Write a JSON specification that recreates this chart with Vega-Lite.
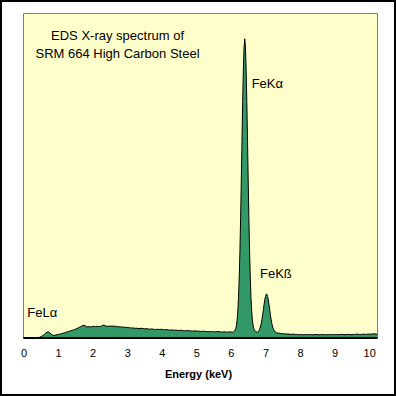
{
  "$schema": "https://vega.github.io/schema/vega-lite/v6.json",
  "width": 396,
  "height": 396,
  "padding": 0,
  "autosize": {"type": "none"},
  "background": "white",
  "config": {
    "view": {"stroke": "black", "strokeWidth": 4, "fill": "white"},
    "font": "Liberation Sans",
    "axisX": {"domain": false, "ticks": false, "tickSize": 0, "grid": false, "offset": -43, "labelPadding": 0, "labelBaseline": "middle", "labelFont": "Liberation Sans", "labelFontSize": 11, "labelColor": "black", "labelFlush": false, "labelOverlap": false, "titleFont": "Liberation Sans", "titleFontSize": 11, "titleFontWeight": "bold", "titleColor": "black", "titlePadding": 10}
  },
  "data": {"values": [{}]},
  "datasets": {
    "spectrum": [
      {"energy": 0.0, "counts": 0}, {"energy": 0.4, "counts": 0}, {"energy": 0.46, "counts": 0.2}, {"energy": 0.52, "counts": 0.5},
      {"energy": 0.58, "counts": 0.9}, {"energy": 0.64, "counts": 1.5}, {"energy": 0.68, "counts": 1.8}, {"energy": 0.72, "counts": 1.9},
      {"energy": 0.76, "counts": 1.6}, {"energy": 0.8, "counts": 1.2}, {"energy": 0.84, "counts": 0.9}, {"energy": 0.88, "counts": 0.8},
      {"energy": 0.94, "counts": 0.9}, {"energy": 1.0, "counts": 1.1}, {"energy": 1.06, "counts": 1.2}, {"energy": 1.12, "counts": 1.4},
      {"energy": 1.18, "counts": 1.6}, {"energy": 1.24, "counts": 1.8}, {"energy": 1.3, "counts": 2.0}, {"energy": 1.36, "counts": 2.2},
      {"energy": 1.42, "counts": 2.4}, {"energy": 1.48, "counts": 2.6}, {"energy": 1.54, "counts": 2.9}, {"energy": 1.6, "counts": 3.2},
      {"energy": 1.66, "counts": 3.5}, {"energy": 1.72, "counts": 3.9}, {"energy": 1.78, "counts": 3.8}, {"energy": 1.84, "counts": 3.4},
      {"energy": 1.9, "counts": 3.5}, {"energy": 1.96, "counts": 3.4}, {"energy": 2.02, "counts": 3.6}, {"energy": 2.08, "counts": 3.5},
      {"energy": 2.14, "counts": 3.6}, {"energy": 2.2, "counts": 3.5}, {"energy": 2.26, "counts": 3.7}, {"energy": 2.32, "counts": 4.0},
      {"energy": 2.38, "counts": 3.7}, {"energy": 2.44, "counts": 3.6}, {"energy": 2.5, "counts": 3.7}, {"energy": 2.56, "counts": 3.6},
      {"energy": 2.62, "counts": 3.7}, {"energy": 2.68, "counts": 3.5}, {"energy": 2.74, "counts": 3.5}, {"energy": 2.8, "counts": 3.4},
      {"energy": 2.86, "counts": 3.4}, {"energy": 2.92, "counts": 3.3}, {"energy": 2.98, "counts": 3.3}, {"energy": 3.04, "counts": 3.2},
      {"energy": 3.1, "counts": 3.1}, {"energy": 3.16, "counts": 3.1}, {"energy": 3.22, "counts": 3.0}, {"energy": 3.28, "counts": 3.0},
      {"energy": 3.34, "counts": 2.9}, {"energy": 3.4, "counts": 3.0}, {"energy": 3.46, "counts": 2.9}, {"energy": 3.52, "counts": 2.8},
      {"energy": 3.58, "counts": 2.9}, {"energy": 3.64, "counts": 2.7}, {"energy": 3.7, "counts": 2.8}, {"energy": 3.76, "counts": 2.7},
      {"energy": 3.82, "counts": 2.6}, {"energy": 3.88, "counts": 2.7}, {"energy": 3.94, "counts": 2.6}, {"energy": 4.0, "counts": 2.7},
      {"energy": 4.06, "counts": 2.5}, {"energy": 4.12, "counts": 2.6}, {"energy": 4.18, "counts": 2.5}, {"energy": 4.24, "counts": 2.4},
      {"energy": 4.3, "counts": 2.5}, {"energy": 4.36, "counts": 2.4}, {"energy": 4.42, "counts": 2.4}, {"energy": 4.48, "counts": 2.3},
      {"energy": 4.54, "counts": 2.4}, {"energy": 4.6, "counts": 2.3}, {"energy": 4.66, "counts": 2.2}, {"energy": 4.72, "counts": 2.3},
      {"energy": 4.78, "counts": 2.2}, {"energy": 4.84, "counts": 2.2}, {"energy": 4.9, "counts": 2.1}, {"energy": 4.96, "counts": 2.2},
      {"energy": 5.02, "counts": 2.1}, {"energy": 5.08, "counts": 2.1}, {"energy": 5.14, "counts": 2.0}, {"energy": 5.2, "counts": 2.1},
      {"energy": 5.26, "counts": 2.0}, {"energy": 5.32, "counts": 2.0}, {"energy": 5.38, "counts": 1.9}, {"energy": 5.44, "counts": 2.0},
      {"energy": 5.5, "counts": 1.9}, {"energy": 5.56, "counts": 1.9}, {"energy": 5.62, "counts": 2.0}, {"energy": 5.68, "counts": 1.9},
      {"energy": 5.74, "counts": 1.8}, {"energy": 5.8, "counts": 1.9}, {"energy": 5.86, "counts": 1.8}, {"energy": 5.92, "counts": 1.8},
      {"energy": 5.98, "counts": 1.9}, {"energy": 6.04, "counts": 1.8}, {"energy": 6.08, "counts": 1.9},
      {"energy": 6.1, "counts": 2.1}, {"energy": 6.12, "counts": 2.4}, {"energy": 6.14, "counts": 2.9}, {"energy": 6.16, "counts": 3.9},
      {"energy": 6.18, "counts": 5.6}, {"energy": 6.2, "counts": 8.3}, {"energy": 6.22, "counts": 12.5}, {"energy": 6.24, "counts": 18.5},
      {"energy": 6.26, "counts": 26.6}, {"energy": 6.28, "counts": 36.7}, {"energy": 6.3, "counts": 48.4}, {"energy": 6.32, "counts": 60.9},
      {"energy": 6.34, "counts": 72.8}, {"energy": 6.36, "counts": 82.9}, {"energy": 6.38, "counts": 89.6}, {"energy": 6.4, "counts": 92.2},
      {"energy": 6.42, "counts": 89.6}, {"energy": 6.44, "counts": 82.9}, {"energy": 6.46, "counts": 72.8}, {"energy": 6.48, "counts": 60.9},
      {"energy": 6.5, "counts": 48.4}, {"energy": 6.52, "counts": 36.7}, {"energy": 6.54, "counts": 26.6}, {"energy": 6.56, "counts": 18.5},
      {"energy": 6.58, "counts": 12.5}, {"energy": 6.6, "counts": 8.3}, {"energy": 6.62, "counts": 5.6}, {"energy": 6.64, "counts": 3.9},
      {"energy": 6.66, "counts": 2.9}, {"energy": 6.68, "counts": 2.4}, {"energy": 6.7, "counts": 2.1}, {"energy": 6.74, "counts": 1.9},
      {"energy": 6.78, "counts": 1.8}, {"energy": 6.8, "counts": 2.0}, {"energy": 6.82, "counts": 2.5}, {"energy": 6.84, "counts": 3.0},
      {"energy": 6.86, "counts": 3.7}, {"energy": 6.88, "counts": 4.65}, {"energy": 6.9, "counts": 5.85}, {"energy": 6.92, "counts": 7.3},
      {"energy": 6.94, "counts": 8.8}, {"energy": 6.96, "counts": 10.4}, {"energy": 6.98, "counts": 11.8}, {"energy": 7.0, "counts": 12.8},
      {"energy": 7.03, "counts": 13.6}, {"energy": 7.06, "counts": 12.8}, {"energy": 7.08, "counts": 11.8}, {"energy": 7.1, "counts": 10.4},
      {"energy": 7.12, "counts": 8.8}, {"energy": 7.14, "counts": 7.3}, {"energy": 7.16, "counts": 5.85}, {"energy": 7.18, "counts": 4.65},
      {"energy": 7.2, "counts": 3.7}, {"energy": 7.22, "counts": 3.0}, {"energy": 7.24, "counts": 2.5}, {"energy": 7.26, "counts": 2.15},
      {"energy": 7.28, "counts": 1.9}, {"energy": 7.32, "counts": 1.6}, {"energy": 7.38, "counts": 1.5}, {"energy": 7.44, "counts": 1.4},
      {"energy": 7.5, "counts": 1.3}, {"energy": 7.56, "counts": 1.3}, {"energy": 7.62, "counts": 1.2}, {"energy": 7.68, "counts": 1.2},
      {"energy": 7.74, "counts": 1.1}, {"energy": 7.8, "counts": 1.2}, {"energy": 7.86, "counts": 1.1}, {"energy": 7.92, "counts": 1.1},
      {"energy": 7.98, "counts": 1.0}, {"energy": 8.04, "counts": 1.1}, {"energy": 8.1, "counts": 1.0}, {"energy": 8.16, "counts": 1.1},
      {"energy": 8.22, "counts": 1.0}, {"energy": 8.28, "counts": 1.1}, {"energy": 8.34, "counts": 1.0}, {"energy": 8.4, "counts": 1.0},
      {"energy": 8.46, "counts": 1.1}, {"energy": 8.52, "counts": 1.0}, {"energy": 8.58, "counts": 1.0}, {"energy": 8.64, "counts": 1.1},
      {"energy": 8.7, "counts": 1.0}, {"energy": 8.76, "counts": 1.0}, {"energy": 8.82, "counts": 1.1}, {"energy": 8.88, "counts": 1.0},
      {"energy": 8.94, "counts": 1.1}, {"energy": 9.0, "counts": 1.0}, {"energy": 9.06, "counts": 1.1}, {"energy": 9.12, "counts": 1.0},
      {"energy": 9.18, "counts": 1.1}, {"energy": 9.24, "counts": 1.1}, {"energy": 9.3, "counts": 1.0}, {"energy": 9.36, "counts": 1.1},
      {"energy": 9.42, "counts": 1.1}, {"energy": 9.48, "counts": 1.0}, {"energy": 9.54, "counts": 1.1}, {"energy": 9.6, "counts": 1.1},
      {"energy": 9.66, "counts": 1.2}, {"energy": 9.72, "counts": 1.1}, {"energy": 9.78, "counts": 1.1}, {"energy": 9.84, "counts": 1.2},
      {"energy": 9.9, "counts": 1.1}, {"energy": 9.96, "counts": 1.2}, {"energy": 10.02, "counts": 1.2}, {"energy": 10.08, "counts": 1.2},
      {"energy": 10.14, "counts": 1.3}, {"energy": 10.2, "counts": 1.2}, {"energy": 10.24, "counts": 1.2}
    ],
    "titles": [
      {"x": 2.72, "y": 93.07, "text": "EDS X-ray spectrum of"},
      {"x": 2.72, "y": 87.52, "text": "SRM 664 High Carbon Steel"}
    ],
    "peaks": [
      {"x": 6.6, "y": 78.4, "text": "FeKα"},
      {"x": 6.84, "y": 19.7, "text": "FeKß"},
      {"x": 0.11, "y": 7.8, "text": "FeLα"}
    ]
  },
  "layer": [
    {
      "mark": {"type": "rect", "fill": "#FFFFCC", "stroke": "#808080", "strokeWidth": 1},
      "encoding": {
        "x": {"datum": 0, "type": "quantitative", "scale": {"domain": [-0.6798, 10.775], "nice": false, "zero": false}, "axis": {"title": "Energy (keV)", "values": [0,1,2,3,4,5,6,7,8,9,10], "format": "d", "labelOverlap": false}},
        "x2": {"datum": 10.24},
        "y": {"datum": 0, "type": "quantitative", "scale": {"domain": [-17.874, 104.16], "nice": false, "zero": false}, "axis": null},
        "y2": {"datum": 100}
      }
    },
    {
      "data": {"name": "spectrum"},
      "mark": {"type": "area", "fill": "#339966", "opacity": 1},
      "encoding": {
        "x": {"field": "energy", "type": "quantitative", "scale": {"domain": [-0.6798, 10.775], "nice": false, "zero": false}, "axis": {"title": "Energy (keV)", "values": [0,1,2,3,4,5,6,7,8,9,10], "format": "d", "labelOverlap": false}},
        "y": {"field": "counts", "type": "quantitative", "scale": {"domain": [-17.874, 104.16], "nice": false, "zero": false}, "axis": null},
        "y2": {"datum": 0}
      }
    },
    {
      "data": {"name": "spectrum"},
      "mark": {"type": "line", "color": "black", "strokeWidth": 1},
      "encoding": {
        "x": {"field": "energy", "type": "quantitative", "scale": {"domain": [-0.6798, 10.775], "nice": false, "zero": false}, "axis": {"title": "Energy (keV)", "values": [0,1,2,3,4,5,6,7,8,9,10], "format": "d", "labelOverlap": false}},
        "y": {"field": "counts", "type": "quantitative", "scale": {"domain": [-17.874, 104.16], "nice": false, "zero": false}, "axis": null}
      }
    },
    {
      "mark": {"type": "rule", "color": "black", "strokeWidth": 2},
      "encoding": {
        "x": {"datum": 0, "type": "quantitative", "scale": {"domain": [-0.6798, 10.775], "nice": false, "zero": false}, "axis": {"title": "Energy (keV)", "values": [0,1,2,3,4,5,6,7,8,9,10], "format": "d", "labelOverlap": false}},
        "x2": {"datum": 10.24},
        "y": {"datum": 0, "type": "quantitative", "scale": {"domain": [-17.874, 104.16], "nice": false, "zero": false}, "axis": null}
      }
    },
    {
      "data": {"name": "titles"},
      "mark": {"type": "text", "align": "center", "baseline": "middle", "font": "Liberation Sans", "fontSize": 13, "color": "black"},
      "encoding": {
        "x": {"field": "x", "type": "quantitative", "scale": {"domain": [-0.6798, 10.775], "nice": false, "zero": false}, "axis": {"title": "Energy (keV)", "values": [0,1,2,3,4,5,6,7,8,9,10], "format": "d", "labelOverlap": false}},
        "y": {"field": "y", "type": "quantitative", "scale": {"domain": [-17.874, 104.16], "nice": false, "zero": false}, "axis": null},
        "text": {"field": "text"}
      }
    },
    {
      "data": {"name": "peaks"},
      "mark": {"type": "text", "align": "left", "baseline": "middle", "font": "Liberation Sans", "fontSize": 13, "color": "black"},
      "encoding": {
        "x": {"field": "x", "type": "quantitative", "scale": {"domain": [-0.6798, 10.775], "nice": false, "zero": false}, "axis": {"title": "Energy (keV)", "values": [0,1,2,3,4,5,6,7,8,9,10], "format": "d", "labelOverlap": false}},
        "y": {"field": "y", "type": "quantitative", "scale": {"domain": [-17.874, 104.16], "nice": false, "zero": false}, "axis": null},
        "text": {"field": "text"}
      }
    }
  ]
}
